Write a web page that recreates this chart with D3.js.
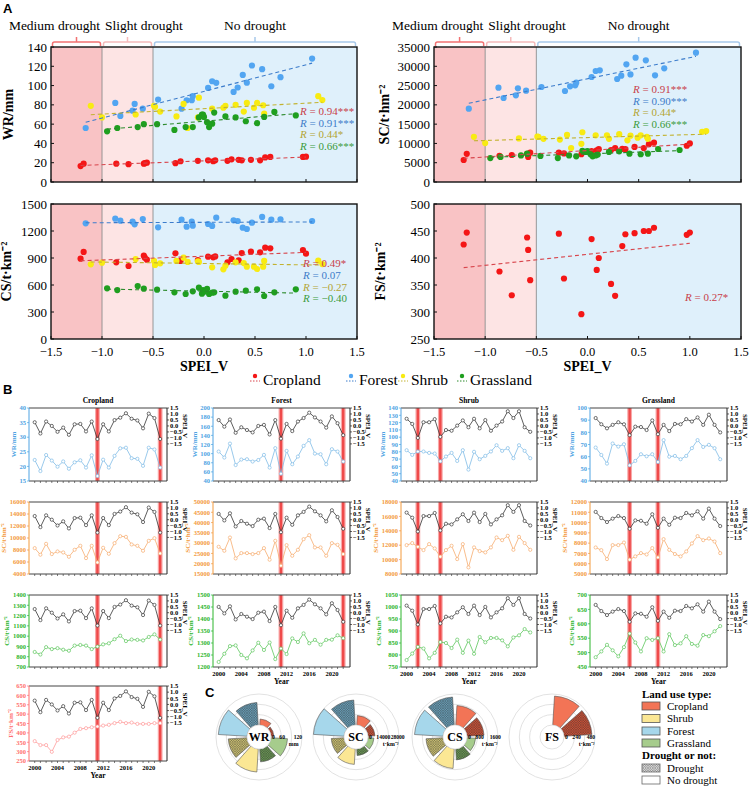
<!DOCTYPE html>
<html>
<head>
<meta charset="utf-8">
<script src="https://cdn.jsdelivr.net/npm/d3@7"></script>
<style>
  body { margin: 0; background: #fff; }
  svg { display: block; }
  text { font-family: "Liberation Serif", "Times New Roman", serif; }
</style>
</head>
<body>
<div id="chart"></div>
<script>
// ---------- panel A: SPEI_V (x) vs yearly value (y) ----------
const aCropX = [-1.21, -1.18, -0.86, -0.74, -0.59, -0.58, -0.56, -0.28, -0.23, -0.06, 0.04, 0.09, 0.11, 0.23, 0.27, 0.34, 0.37, 0.46, 0.55, 0.60, 0.65, 0.97, 1.00];
const aForestX = [-1.16, -0.87, -0.82, -0.70, -0.68, -0.60, -0.45, -0.22, -0.17, -0.12, -0.11, 0.04, 0.08, 0.12, 0.29, 0.33, 0.38, 0.42, 0.47, 0.57, 0.66, 0.75, 1.06];
const aShrubX = [-1.11, -1.00, -0.67, -0.49, -0.48, -0.43, -0.27, -0.20, -0.16, -0.06, -0.05, 0.08, 0.19, 0.21, 0.31, 0.39, 0.42, 0.49, 0.52, 0.58, 0.59, 1.12, 1.16];
const aGrassX = [-0.95, -0.85, -0.65, -0.59, -0.46, -0.29, -0.18, -0.11, -0.05, -0.02, -0.01, 0.00, 0.03, 0.05, 0.08, 0.10, 0.21, 0.31, 0.41, 0.52, 0.59, 0.69, 0.90];

const aCropWR = [16.5, 19, 19, 18.5, 19, 19.5, 20, 19.5, 21.5, 22, 22.5, 21.5, 22.5, 22, 23.5, 23, 22.5, 23, 22.5, 25.5, 26, 26, 26.3];
const aForestWR = [56, 82, 68.5, 74, 81, 76, 85.5, 76, 84.8, 84.8, 89, 97.6, 104.5, 102.8, 93.4, 98, 111, 103, 120.8, 117, 99.3, 108.7, 128];
const aShrubWR = [79, 67, 70, 79, 78, 73, 68, 81, 56, 67, 87.5, 76, 77, 79, 80, 73, 82, 77, 82, 79.6, 71, 89, 85];
const aGrassWR = [52.6, 56, 57, 60, 60, 54, 57, 57, 67, 70, 70, 67.5, 62, 57, 60.5, 72, 68, 67, 63, 61, 67.5, 72.7, 69];

const aCropSC = [5700, 7300, 6800, 7000, 7300, 6500, 7600, 7600, 7400, 7200, 8000, 8200, 8500, 8300, 8800, 8600, 8500, 9100, 8800, 9800, 10200, 9400, 10000];
const aForestSC = [19000, 24450, 21780, 22470, 24280, 23680, 24630, 23590, 24800, 25060, 25750, 27220, 28780, 28950, 26700, 27570, 30500, 27900, 32230, 31540, 27650, 29470, 33530];
const aShrubSC = [11700, 10100, 11300, 11750, 11700, 11200, 11000, 12200, 8800, 9900, 12900, 12100, 12100, 11200, 12400, 10800, 12000, 11500, 12100, 11700, 11200, 13000, 13200];
const aGrassSC = [6200, 6500, 6900, 7350, 6750, 6200, 6900, 6650, 8100, 7800, 7800, 8000, 7200, 6650, 6900, 7100, 7800, 7950, 7350, 7200, 7350, 8550, 8300];

const aCropCS = [893, 967, 852, 811, 926, 904, 881, 952, 867, 878, 915, 907, 918, 852, 889, 874, 955, 970, 963, 1015, 1007, 989, 948];
const aForestCS = [1285, 1337, 1315, 1304, 1274, 1333, 1241, 1326, 1248, 1304, 1259, 1278, 1256, 1348, 1319, 1311, 1237, 1222, 1293, 1356, 1326, 1330, 1311];
const aShrubCS = [830, 848, 889, 867, 822, 841, 867, 904, 856, 863, 856, 796, 774, 815, 852, 844, 804, 804, 778, 804, 867, 870, 833];
const aGrassCS = [563, 544, 589, 559, 548, 519, 500, 530, 570, 504, 544, 526, 556, 500, 515, 519, 481, 526, 537, 552, 478, 519, 552];

const aCropFS = [425, 447, 375, 331, 438, 415, 359, 445, 362, 296, 435, 378, 400, 352, 330, 422, 444, 446, 450, 450, 456, 443, 447];

const rWR = ["0.94***", "0.91***", "0.44*", "0.66***"];
const rSC = ["0.91***", "0.90***", "0.44*", "0.66***"];
const rCS = ["0.49*", "0.07", "\u22120.27", "\u22120.40"];
const rFS = ["0.27*"];

// ---------- panel B: yearly series ----------
const years = [2000, 2001, 2002, 2003, 2004, 2005, 2006, 2007, 2008, 2009, 2010, 2011, 2012, 2013, 2014, 2015, 2016, 2017, 2018, 2019, 2020, 2021, 2022];
const yearTicks = [2000, 2004, 2008, 2012, 2016, 2020];

const speiCrop = [0.31, -0.63, 0.37, 0, -0.49, -0.14, -0.74, 0.14, 0.17, -0.46, 0.37, -1.09, 0.14, -0.46, 0.49, 0.69, 1.06, 0.6, 0.46, -0.2, 1.03, 0.66, -1.09];
const speiForest = [0.49, -0.06, 0.54, -0.57, -0.11, -0.34, -0.54, 0, 0.09, -0.71, 0.49, -1.06, 0.17, -0.43, 0.37, 0.66, 1.11, 0.71, 0.37, -0.14, 0.8, 0.23, -0.77];
const speiShrub = [0.6, 0.17, -1.0, 0.31, 0.31, 0.57, -0.91, -0.34, -0.4, 0.03, 0.46, -0.11, 0.6, -0.2, 0.49, -0.4, 0.03, 0.37, 1.23, 0.66, 1.23, -0.11, -0.49];
const speiGrass = [0.66, 0.14, -0.2, 0.09, 0.31, 0.14, -0.77, -0.06, -0.09, -0.34, 0.46, -0.69, 0.09, -0.43, 0.17, 0.14, 0.57, 0.37, 0.71, 0.09, 0.94, 0.09, -0.54];

const droughtCrop = [2011, 2022];
const droughtForest = [2011, 2022];
const droughtShrub = [2002, 2006];
const droughtGrass = [2006, 2011];

const bCropWR = [22.2, 18.4, 23.9, 22, 19.9, 21.7, 19.2, 21.4, 22.1, 19.6, 23.8, 16.7, 22.3, 19.6, 23.6, 26.2, 26.4, 22.8, 22.6, 20.2, 26.4, 25.8, 19.6];
const bForestWR = [104.6, 91.4, 122, 75, 87, 87.7, 82.6, 86, 97.2, 69.4, 112, 56, 106, 76.7, 93.6, 117, 129.5, 100, 98.7, 76.7, 109.7, 104.6, 82.6];
const bShrubWR = [82.2, 75.8, 80.4, 80.4, 78.5, 77.6, 67, 73.5, 78.5, 67.5, 82.2, 55.6, 80, 69.8, 74.4, 80.4, 89, 81.3, 85, 71.2, 89, 81.3, 71.2];
const bGrassWR = [67.5, 61.4, 54.3, 70.8, 68.3, 70.2, 52.9, 56.5, 62, 60.3, 62, 55.6, 73.6, 60, 60.6, 57.9, 60.6, 67, 73.6, 68, 69.7, 67, 57.9];

const bCropSC = [8310, 7210, 9030, 7320, 7760, 7590, 6870, 8040, 8700, 6650, 8700, 5930, 8370, 7370, 9140, 10300, 10190, 8920, 8700, 7870, 9530, 9970, 7430];
const bForestSC = [28230, 26290, 32740, 22580, 25160, 25160, 24680, 25160, 27580, 21940, 31130, 19030, 29030, 23870, 26770, 31940, 33870, 27900, 27900, 23870, 30000, 29190, 24680];
const bShrubSC = [12010, 12290, 11780, 11320, 12150, 11550, 10400, 11320, 11920, 10070, 12150, 8920, 11690, 11180, 11000, 11690, 13070, 12700, 13300, 11360, 13160, 12290, 11360];
const bGrassSC = [7580, 7320, 6450, 7810, 7810, 8060, 6390, 6710, 7030, 6900, 7520, 6610, 8390, 7350, 6940, 6710, 7190, 7970, 8680, 8290, 8450, 8160, 7030];

const bCropCS = [846, 821, 893, 874, 883, 868, 858, 908, 914, 908, 874, 899, 920, 930, 970, 1004, 952, 967, 964, 958, 992, 1017, 967];
const bForestCS = [1221, 1255, 1287, 1290, 1250, 1236, 1269, 1301, 1271, 1302, 1233, 1277, 1254, 1319, 1304, 1340, 1299, 1313, 1293, 1313, 1314, 1332, 1320];
const bShrubCS = [779, 806, 834, 827, 786, 809, 854, 850, 829, 864, 809, 860, 805, 875, 853, 871, 871, 861, 836, 873, 882, 908, 894];
const bGrassCS = [484, 504, 527, 508, 487, 519, 566, 535, 504, 550, 544, 550, 504, 564, 526, 532, 557, 530, 524, 561, 557, 574, 592];

const bCropFS = [356, 335, 335, 299, 362, 376, 380, 401, 421, 425, 430, 434, 439, 443, 452, 459, 452, 455, 448, 448, 448, 452, 452];

// ---------- panel C: rose charts, slots go clockwise from 12 o'clock ----------
const roseLand = ["Cropland", "Grassland", "Shrub", "Forest"];
const roseWRNo = [35, 96, 134, 167];
const roseWRDr = [17, 75, 109, 131];
const roseSCNo = [12900, 8100, 20900, 41500];
const roseSCDr = [9500, 8900, 17300, 33900];
const roseCSNo = [1510, 666, 1510, 2210];
const roseCSDr = [1320, 850, 1320, 2170];
const roseFSNo = [673];
const roseFSDr = [650];

// ---------- colours ----------
const ptColor = { Cropland: "#f41616", Forest: "#52a5f1", Shrub: "#f8eb12", Grassland: "#1f9f1f" };
const fitColor = { Cropland: "#d8454c", Forest: "#3c7ccb", Shrub: "#c2b230", Grassland: "#2d8a2d" };
const rColor = { Cropland: "#c8404a", Forest: "#3d7cc9", Shrub: "#b3a534", Grassland: "#3b9b3b" };
const roseFill = { Cropland: "#f27456", Shrub: "#fbe794", Forest: "#a6d7eb", Grassland: "#a6cc8c" };
const roseHatch = { Cropland: "#cc5238", Shrub: "#cdc273", Forest: "#6a9fb8", Grassland: "#6a9654" };

const W = 749, H = 787;
const svg = d3.select("#chart").append("svg").attr("width", W).attr("height", H);
const defs = svg.append("defs");

const minus = (s) => s.replace("-", "\u2212");

// hatch patterns for the drought bars
Object.keys(roseHatch).concat(["Legend"]).forEach((k) => {
  const p = defs.append("pattern").attr("id", "hatch-" + k)
    .attr("patternUnits", "userSpaceOnUse").attr("width", 2.4).attr("height", 2.4);
  p.append("rect").attr("width", 2.4).attr("height", 2.4).attr("fill", k == "Legend" ? "#e6e6e6" : roseHatch[k]);
  p.append("path").attr("d", "M0,0L2.4,2.4M2.4,0L0,2.4")
    .attr("stroke", "#2b2b2b").attr("stroke-width", 0.45).attr("stroke-opacity", 0.7);
});

// panel letters
[["A", 3, 13], ["B", 3, 394], ["C", 205, 697]].forEach(([t, x, y]) => {
  svg.append("text").attr("x", x).attr("y", y).text(t)
    .style("font-family", '"Liberation Sans", Arial, sans-serif')
    .attr("font-weight", "bold").attr("font-size", 13);
});

// ---------------- panel A ----------------
const zones = [
  { from: -1.5, to: -1.0, fill: "#f9c3c5", line: "#f27272", name: "Medium drought" },
  { from: -1.0, to: -0.5, fill: "#fde4e4", line: "#f5baba", name: "Slight drought" },
  { from: -0.5, to: 1.5, fill: "#dff0fb", line: "#a8c9ea", name: "No drought" },
];

const fit = (xs, ys) => {
  const mx = d3.mean(xs), my = d3.mean(ys);
  const b = d3.sum(xs, (v, i) => (v - mx) * (ys[i] - my)) / d3.sum(xs, (v) => (v - mx) ** 2);
  return { a: my - b * mx, b: b };
};

function panelA(box, yDom, yStep, yLabel, labelX, series, rLabels, rX, rY, brackets, xLabels) {
  const x = d3.scaleLinear().domain([-1.5, 1.5]).range([box.l, box.r]);
  const y = d3.scaleLinear().domain(yDom).range([box.b, box.t]);
  const g = svg.append("g");

  g.selectAll("rect.zone").data(zones).join("rect")
    .attr("x", (d) => x(d.from)).attr("y", box.t)
    .attr("width", (d) => x(d.to) - x(d.from)).attr("height", box.b - box.t)
    .attr("fill", (d) => d.fill);
  g.selectAll("line.sep").data([-1, -0.5]).join("line")
    .attr("x1", (d) => x(d)).attr("x2", (d) => x(d))
    .attr("y1", box.t).attr("y2", box.b)
    .attr("stroke", "#8c8c8c").attr("stroke-width", 0.9);

  series.forEach((s) => {
    g.append("g").selectAll("circle")
      .data(s.x.map((v, i) => [v, s.y[i]])).join("circle")
      .attr("cx", (d) => x(d[0])).attr("cy", (d) => y(d[1]))
      .attr("r", 3.1).attr("fill", ptColor[s.type]);
  });
  series.forEach((s) => {
    const f = fit(s.x, s.y);
    const ext = d3.extent(s.x);
    g.append("line")
      .attr("x1", x(ext[0])).attr("y1", y(f.a + f.b * ext[0]))
      .attr("x2", x(ext[1])).attr("y2", y(f.a + f.b * ext[1]))
      .attr("stroke", fitColor[s.type]).attr("stroke-width", 1.1)
      .attr("stroke-dasharray", "4,3");
  });

  g.append("rect").attr("x", box.l).attr("y", box.t)
    .attr("width", box.r - box.l).attr("height", box.b - box.t)
    .attr("fill", "none").attr("stroke", "#111").attr("stroke-width", 1.4);

  // y axis
  const yt = d3.range(yDom[0], yDom[1] + yStep / 2, yStep);
  g.selectAll("line.yt").data(yt).join("line")
    .attr("x1", box.l).attr("x2", box.l + 3).attr("y1", (d) => y(d)).attr("y2", (d) => y(d))
    .attr("stroke", "#111");
  g.selectAll("text.yt").data(yt).join("text")
    .attr("x", box.l - 4).attr("y", (d) => y(d)).attr("dy", "0.35em")
    .attr("text-anchor", "end").attr("font-size", 13).text((d) => d);
  g.append("text")
    .attr("transform", `translate(${labelX},${(box.t + box.b) / 2}) rotate(-90)`)
    .attr("text-anchor", "middle").attr("font-weight", "bold").attr("font-size", 14)
    .text(yLabel);

  // x axis
  const xt = [-1.5, -1, -0.5, 0, 0.5, 1, 1.5];
  g.selectAll("line.xt").data(xt).join("line")
    .attr("x1", (d) => x(d)).attr("x2", (d) => x(d))
    .attr("y1", box.b).attr("y2", box.b - 3).attr("stroke", "#111");
  if (xLabels) {
    g.selectAll("text.xt").data(xt).join("text")
      .attr("x", (d) => x(d)).attr("y", box.b + 17).attr("text-anchor", "middle")
      .attr("font-size", 12.5).text((d) => minus(d.toFixed(1)));
    g.append("text").attr("x", (box.l + box.r) / 2).attr("y", box.b + 32)
      .attr("text-anchor", "middle").attr("font-weight", "bold").attr("font-size", 14)
      .text("SPEI_V");
  }

  // R labels
  series.forEach((s, i) => {
    const t = g.append("text").attr("x", rX).attr("y", rY[i])
      .attr("font-size", 11).attr("fill", rColor[s.type]);
    t.append("tspan").attr("font-style", "italic").text("R");
    t.append("tspan").text(" = " + rLabels[i]);
  });

  if (brackets) {
    const yb = 42;
    zones.forEach((z) => {
      const a = x(z.from) + 1.5, b = x(z.to) - 1.5, m = (a + b) / 2;
      g.append("path")
        .attr("d", `M${a},${box.t - 1}V${yb + 2}Q${a},${yb} ${a + 2},${yb}H${b - 2}Q${b},${yb} ${b},${yb + 2}V${box.t - 1}M${m},${yb}V${yb - 5}`)
        .attr("fill", "none").attr("stroke", z.line).attr("stroke-width", 1.5);
    });
    const tl = [
      { t: zones[0].name, x: x(-1) - 2, anchor: "end" },
      { t: zones[1].name, x: x(-1) + 3, anchor: "start" },
      { t: zones[2].name, x: (x(-0.5) + x(1.5)) / 2, anchor: "middle" },
    ];
    g.selectAll("text.zl").data(tl).join("text")
      .attr("x", (d) => d.x).attr("y", 30).attr("text-anchor", (d) => d.anchor)
      .attr("font-size", 13.5).text((d) => d.t);
  }
}

const landTypes = ["Cropland", "Forest", "Shrub", "Grassland"];
const four = (xs, ys) => landTypes.map((lt, i) => ({ type: lt, x: xs[i], y: ys[i] }));
const allX = [aCropX, aForestX, aShrubX, aGrassX];

panelA({ l: 51, r: 357, t: 47, b: 182 }, [0, 140], 20, "WR/mm", 13,
  four(allX, [aCropWR, aForestWR, aShrubWR, aGrassWR]), rWR, 300, [115, 126.5, 138, 149.5], true, false);
panelA({ l: 434, r: 741, t: 47, b: 182 }, [0, 35000], 5000, "SC/t\u00b7hm\u207b\u00b2", 389,
  four(allX, [aCropSC, aForestSC, aShrubSC, aGrassSC]), rSC, 633, [93, 104.5, 116, 127.5], true, false);
panelA({ l: 51, r: 357, t: 204, b: 339 }, [0, 1500], 300, "CS/t\u00b7km\u207b\u00b2", 11,
  four(allX, [aCropCS, aForestCS, aShrubCS, aGrassCS]), rCS, 303, [267, 279, 290.5, 302], false, true);
panelA({ l: 434, r: 741, t: 204, b: 339 }, [250, 500], 50, "FS/t\u00b7km\u207b\u00b2", 385,
  [{ type: "Cropland", x: aCropX, y: aCropFS }], rFS, 685, [301], false, true);

// legend of panel A
const legA = [
  { t: "Cropland", mx: 255 }, { t: "Forest", mx: 351 },
  { t: "Shrub", mx: 403 }, { t: "Grassland", mx: 462 },
];
legA.forEach((d, i) => {
  const lt = landTypes[i];
  svg.append("circle").attr("cx", d.mx).attr("cy", 376).attr("r", 2.2).attr("fill", ptColor[lt]);
  svg.append("line").attr("x1", d.mx - 5).attr("x2", d.mx + 5).attr("y1", 381).attr("y2", 381)
    .attr("stroke", fitColor[lt]).attr("stroke-width", 1).attr("stroke-dasharray", "1.5,1.5");
  svg.append("text").attr("x", d.mx + 8).attr("y", 385).attr("font-size", 15.5).text(d.t);
});

// ---------------- panel B ----------------
const bCols = [{ x0: 29, x1: 167 }, { x0: 213, x1: 350 }, { x0: 401, x1: 537 }, { x0: 590, x1: 727 }];
const bRows = [{ y0: 408, y1: 481 }, { y0: 502, y1: 574 }, { y0: 595, y1: 667 }, { y0: 686, y1: 761 }];
const bVar = [
  { label: "WR/mm", axis: "#4fa3e3", line: "#7fbbe6" },
  { label: "SC/t\u00b7hm\u207b\u00b2", axis: "#f39a3d", line: "#f6ac6e" },
  { label: "CS/t\u00b7km\u207b\u00b2", axis: "#2db52d", line: "#5cc65c" },
  { label: "FS/t\u00b7km\u207b\u00b2", axis: "#ff6f6f", line: "#ff9a9a" },
];

function panelB(ci, ri, o) {
  const { x0, x1 } = bCols[ci];
  const { y0, y1 } = bRows[ri];
  const v = bVar[ri];
  const x = d3.scaleLinear().domain([1999, 2023.2]).range([x0, x1]);
  const y = d3.scaleLinear().domain(o.dom).range([y1, y0]);
  const ys = d3.scaleLinear().domain([-4.6, 1.5]).range([y1, y0]);
  const g = svg.append("g");
  const fs = 6.5;

  g.selectAll("rect.halo").data(o.drought).join("rect")
    .attr("x", (d) => x(d) - 2.4).attr("y", y0).attr("width", 4.8).attr("height", y1 - y0)
    .attr("fill", "#f8a9a9");
  g.selectAll("rect.core").data(o.drought).join("rect")
    .attr("x", (d) => x(d) - 1.2).attr("y", y0).attr("width", 2.4).attr("height", y1 - y0)
    .attr("fill", "#ef4a4a");

  g.append("path").attr("d", `M${x0},${y0}H${x1}M${x0},${y1}H${x1}`)
    .attr("stroke", "#444").attr("stroke-width", 1);
  g.append("line").attr("x1", x0).attr("x2", x0).attr("y1", y0).attr("y2", y1)
    .attr("stroke", v.axis).attr("stroke-width", 1);
  g.append("line").attr("x1", x1).attr("x2", x1).attr("y1", y0).attr("y2", y1)
    .attr("stroke", "#222").attr("stroke-width", 1);

  // x axis
  g.selectAll("line.xt").data(years).join("line")
    .attr("x1", (d) => x(d)).attr("x2", (d) => x(d)).attr("y1", y1).attr("y2", y1 + 2)
    .attr("stroke", "#444").attr("stroke-width", 0.7);
  if (o.showYears) {
    g.selectAll("text.xt").data(yearTicks).join("text")
      .attr("x", (d) => x(d)).attr("y", y1 + 8.5).attr("text-anchor", "middle")
      .attr("font-size", fs).attr("font-weight", "bold").text((d) => d);
    g.append("text").attr("x", (x0 + x1) / 2).attr("y", y1 + 17).attr("text-anchor", "middle")
      .attr("font-size", 7.5).attr("font-weight", "bold").text("Year");
  }

  // left axis
  const lt = d3.range(o.dom[0], o.dom[1] + o.step / 2, o.step);
  g.selectAll("line.lt").data(lt).join("line")
    .attr("x1", x0 - 2).attr("x2", x0).attr("y1", (d) => y(d)).attr("y2", (d) => y(d))
    .attr("stroke", v.axis).attr("stroke-width", 0.7);
  g.selectAll("text.lt").data(lt).join("text")
    .attr("x", x0 - 3).attr("y", (d) => y(d)).attr("dy", "0.35em").attr("text-anchor", "end")
    .attr("font-size", fs).attr("font-weight", "bold").attr("fill", v.axis).text((d) => d);
  const nch = String(o.dom[1]).length;
  g.append("text")
    .attr("transform", `translate(${x0 - nch * 3.5 - 6},${(y0 + y1) / 2}) rotate(-90)`)
    .attr("text-anchor", "middle").attr("font-size", 7).attr("font-weight", "bold")
    .attr("fill", v.axis).text(v.label);

  // right axis (SPEI_V)
  const rt = [-1.5, -1, -0.5, 0, 0.5, 1, 1.5];
  g.selectAll("line.rt").data(rt).join("line")
    .attr("x1", x1).attr("x2", x1 + 2).attr("y1", (d) => ys(d)).attr("y2", (d) => ys(d))
    .attr("stroke", "#222").attr("stroke-width", 0.7);
  g.selectAll("text.rt").data(rt).join("text")
    .attr("x", x1 + 3).attr("y", (d) => ys(d)).attr("dy", "0.35em")
    .attr("font-size", fs).attr("font-weight", "bold").text((d) => minus(d.toFixed(1)));
  g.append("text")
    .attr("transform", `translate(${x1 + 16},${ys(0)}) rotate(90)`)
    .attr("text-anchor", "middle").attr("font-size", 7).attr("font-weight", "bold").text("SPEI_V");

  if (o.title) {
    g.append("text").attr("x", (x0 + x1) / 2).attr("y", y0 - 5).attr("text-anchor", "middle")
      .attr("font-size", 7.5).attr("font-weight", "bold").text(o.title);
  }

  const sLine = d3.line().x((d, i) => x(years[i])).y((d) => ys(d));
  g.append("path").attr("d", sLine(o.spei)).attr("fill", "none")
    .attr("stroke", "#333").attr("stroke-width", 0.8);
  g.selectAll("circle.s").data(o.spei).join("circle")
    .attr("cx", (d, i) => x(years[i])).attr("cy", (d) => ys(d)).attr("r", 1.6)
    .attr("fill", "#fff").attr("stroke", "#333").attr("stroke-width", 0.7);

  const vLine = d3.line().x((d, i) => x(years[i])).y((d) => y(d));
  g.append("path").attr("d", vLine(o.vals)).attr("fill", "none")
    .attr("stroke", v.line).attr("stroke-width", 0.8);
  g.selectAll("circle.v").data(o.vals).join("circle")
    .attr("cx", (d, i) => x(years[i])).attr("cy", (d) => y(d)).attr("r", 1.6)
    .attr("fill", "#fff").attr("stroke", v.line).attr("stroke-width", 0.7);
}

const bSpei = [speiCrop, speiForest, speiShrub, speiGrass];
const bDrought = [droughtCrop, droughtForest, droughtShrub, droughtGrass];
const bVals = [
  [bCropWR, bForestWR, bShrubWR, bGrassWR],
  [bCropSC, bForestSC, bShrubSC, bGrassSC],
  [bCropCS, bForestCS, bShrubCS, bGrassCS],
];
const bDoms = [
  [[15, 40, 5], [40, 200, 20], [40, 140, 10], [40, 100, 10]],
  [[4000, 16000, 2000], [15000, 50000, 5000], [8000, 18000, 2000], [5000, 12000, 1000]],
  [[700, 1400, 100], [1200, 1500, 50], [750, 1050, 50], [450, 700, 50]],
];
bVals.forEach((row, ri) => {
  row.forEach((vals, ci) => {
    const d = bDoms[ri][ci];
    panelB(ci, ri, {
      dom: [d[0], d[1]], step: d[2], vals: vals, spei: bSpei[ci], drought: bDrought[ci],
      title: ri == 0 ? landTypes[ci] : null,
      showYears: ri == 2 && ci > 0,
    });
  });
});
panelB(0, 3, {
  dom: [250, 650], step: 50, vals: bCropFS, spei: speiCrop, drought: droughtCrop,
  title: null, showYears: true,
});

// ---------------- panel C ----------------
function rose(cx, cy, name, t, land, noDr, dr, ticks, unit) {
  const r = d3.scaleLinear().domain([0, 3 * t]).range([12, 43]);
  const g = svg.append("g").attr("transform", `translate(${cx},${cy})`);
  g.selectAll("circle.ring").data([t, 2 * t, 3 * t]).join("circle")
    .attr("r", (d) => r(d)).attr("fill", "none").attr("stroke", "#dadada").attr("stroke-width", 0.8);

  const bars = [];
  land.forEach((lt, i) => {
    const k = roseLand.indexOf(lt);
    bars.push({ lt: lt, hatch: false, v: noDr[i], slot: 2 * k });
    bars.push({ lt: lt, hatch: true, v: dr[i], slot: 2 * k + 1 });
  });
  const rad = Math.PI / 180;
  const arc = d3.arc().innerRadius(r(0)).outerRadius((d) => r(d.v))
    .startAngle((d) => (d.slot * 45 + 3.5) * rad).endAngle((d) => (d.slot * 45 + 41.5) * rad);
  g.selectAll("path.bar").data(bars).join("path").attr("d", arc)
    .attr("fill", (d) => (d.hatch ? `url(#hatch-${d.lt})` : roseFill[d.lt]))
    .attr("stroke", "#555").attr("stroke-width", 0.6);

  g.append("circle").attr("r", r(0)).attr("fill", "#fff").attr("stroke", "#dadada").attr("stroke-width", 0.8);
  g.append("text").attr("text-anchor", "middle").attr("dy", "0.35em")
    .attr("font-size", 12).attr("font-weight", "bold").text(name);

  const tickX = [r(0) + 1, r(t) - 2, r(2 * t) + 2];
  g.selectAll("text.tk").data(ticks).join("text")
    .attr("x", (d, i) => tickX[i]).attr("y", 0).attr("dy", "0.35em")
    .attr("font-size", 5.6).attr("font-weight", "bold").text((d) => d);
  g.append("text").attr("x", r(2 * t) + 2).attr("y", 9).attr("text-anchor", "middle")
    .attr("font-size", 5.8).attr("font-weight", "bold").text(unit);
}

rose(259, 737, "WR", 60, roseLand, roseWRNo, roseWRDr, ["0", "60", "120"], "mm");
rose(356, 737, "SC", 14000, roseLand, roseSCNo, roseSCDr, ["0", "14000", "28000"], "t\u00b7km\u207b\u00b2");
rose(455, 737, "CS", 800, roseLand, roseCSNo, roseCSDr, ["0", "800", "1600"], "t\u00b7km\u207b\u00b2");
rose(552, 737, "FS", 240, ["Cropland"], roseFSNo, roseFSDr, ["0", "240", "480"], "t\u00b7km\u207b\u00b2");

// legend of panel C
const legC = svg.append("g");
legC.append("text").attr("x", 642).attr("y", 698).attr("font-size", 11).attr("font-weight", "bold").text("Land use type:");
const legLand = ["Cropland", "Shrub", "Forest", "Grassland"];
const legLandY = [706, 718.5, 731, 743];
legLand.forEach((lt, i) => {
  legC.append("rect").attr("x", 642).attr("y", legLandY[i] - 4).attr("width", 18).attr("height", 8)
    .attr("fill", roseFill[lt]).attr("stroke", "#555").attr("stroke-width", 0.8);
  legC.append("text").attr("x", 667).attr("y", legLandY[i] + 3.5).attr("font-size", 11).text(lt);
});
legC.append("text").attr("x", 642).attr("y", 759).attr("font-size", 11).attr("font-weight", "bold").text("Drought or not:");
[["Drought", 768, "url(#hatch-Legend)"], ["No drought", 780, "#fff"]].forEach(([t, yy, f]) => {
  legC.append("rect").attr("x", 642).attr("y", yy - 4).attr("width", 18).attr("height", 8)
    .attr("fill", f).attr("stroke", "#666").attr("stroke-width", 0.8);
  legC.append("text").attr("x", 667).attr("y", yy + 3.5).attr("font-size", 11).text(t);
});
</script>
</body>
</html>
